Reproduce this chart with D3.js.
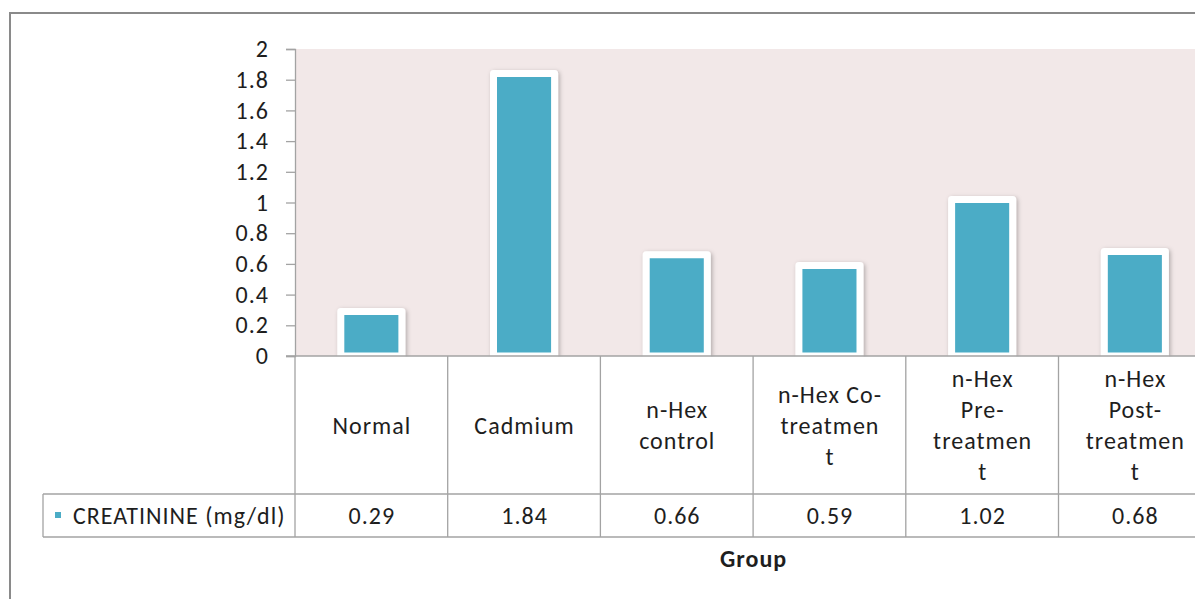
<!DOCTYPE html>
<html>
<head>
<meta charset="utf-8">
<script src="https://cdn.jsdelivr.net/npm/d3@7"></script>
<style>
  html, body { margin: 0; padding: 0; background: #ffffff; }
  svg { display: block; }
  text { font-family: Carlito, Calibri, Lato, "Open Sans", sans-serif; fill: #1e1e1e; letter-spacing: 1px; }
</style>
</head>
<body>
<svg id="chart" width="1195" height="599"></svg>
<script>
// Creatinine by treatment group
const categories = ["Normal", "Cadmium", "n-Hex control", "n-Hex Co-treatment", "n-Hex Pre-treatment", "n-Hex Post-treatment"];
const categoryLines = [
  ["Normal"],
  ["Cadmium"],
  ["n-Hex", "control"],
  ["n-Hex Co-", "treatmen", "t"],
  ["n-Hex", "Pre-", "treatmen", "t"],
  ["n-Hex", "Post-", "treatmen", "t"]
];
const creatinine = [0.29, 1.84, 0.66, 0.59, 1.02, 0.68];
const seriesName = "CREATININE (mg/dl)";
const yTicks = [0, 0.2, 0.4, 0.6, 0.8, 1, 1.2, 1.4, 1.6, 1.8, 2];
const xTitle = "Group";

const svg = d3.select("#chart");
const gridColor = "#a3a3a3";
const barColor = "#4bacc6";
const fontSize = 24;
const fontFamily = "Carlito, Calibri, Lato, 'Open Sans', sans-serif";

// plot geometry
const plotLeft = 295, plotTop = 49, plotBottom = 356;
const bandW = 152.7;
const plotRight = plotLeft + bandW * categories.length;
const row1Bottom = 494, row2Bottom = 537, legendLeft = 43;

const x = d3.scaleBand().domain(categories).range([plotLeft, plotRight]).paddingInner(0).paddingOuter(0);
const y = d3.scaleLinear().domain([0, 2]).range([plotBottom, plotTop]);

// soft shadow for the columns
const defs = svg.append("defs");
const f = defs.append("filter").attr("id", "shadow").attr("x", "-20%").attr("y", "-20%").attr("width", "140%").attr("height", "140%");
f.append("feDropShadow").attr("dx", 1.5).attr("dy", 1.5).attr("stdDeviation", 2)
  .attr("flood-color", "#000").attr("flood-opacity", 0.28);

// outer chart frame
svg.append("rect").attr("x", 10).attr("y", 13).attr("width", 1300).attr("height", 700)
  .attr("fill", "none").attr("stroke", "#8a8a8a").attr("stroke-width", 2);

// plot area background
svg.append("rect").attr("x", plotLeft + 1).attr("y", plotTop)
  .attr("width", plotRight - plotLeft).attr("height", plotBottom - plotTop)
  .attr("fill", "#f2e8e8");

// columns
const barW = bandW * 0.4;
svg.append("g").selectAll("rect").data(categories).join("rect")
  .attr("x", (d) => x(d) + (bandW - barW) / 2)
  .attr("y", (d, i) => y(creatinine[i]))
  .attr("width", barW)
  .attr("height", (d, i) => y(0) - y(creatinine[i]))
  .attr("fill", barColor)
  .attr("stroke", "#ffffff")
  .attr("stroke-width", 7)
  .attr("stroke-linejoin", "round")
  .attr("filter", "url(#shadow)");

// cover the shadow/stroke that falls below the baseline
svg.append("rect").attr("x", plotLeft + 1).attr("y", plotBottom + 0.5)
  .attr("width", plotRight - plotLeft).attr("height", row1Bottom - plotBottom - 1)
  .attr("fill", "#ffffff");

// y axis
const yAxis = d3.axisLeft(y).tickValues(yTicks).tickSize(9).tickPadding(17)
  .tickFormat((d) => d3.format("~g")(d));
const ya = svg.append("g").attr("transform", `translate(${plotLeft},0)`).call(yAxis);
ya.select(".domain").attr("stroke", gridColor).attr("stroke-width", 1.3);
ya.selectAll(".tick line").attr("stroke", gridColor).attr("stroke-width", 1.3);
ya.selectAll(".tick text").attr("font-size", fontSize).attr("fill", "#1e1e1e")
  .style("font-family", fontFamily);

// baseline / data table grid
const grid = svg.append("g").attr("stroke", gridColor).attr("stroke-width", 1.3).attr("fill", "none");
grid.append("line").attr("x1", plotLeft - 9).attr("x2", plotRight).attr("y1", plotBottom).attr("y2", plotBottom);
grid.append("line").attr("x1", legendLeft).attr("x2", plotRight).attr("y1", row1Bottom).attr("y2", row1Bottom);
grid.append("line").attr("x1", legendLeft).attr("x2", plotRight).attr("y1", row2Bottom).attr("y2", row2Bottom);
grid.append("line").attr("x1", legendLeft).attr("x2", legendLeft).attr("y1", row1Bottom).attr("y2", row2Bottom);
grid.selectAll("line.col").data(d3.range(categories.length + 1)).join("line").attr("class", "col")
  .attr("x1", (i) => plotLeft + i * bandW).attr("x2", (i) => plotLeft + i * bandW)
  .attr("y1", plotBottom).attr("y2", row2Bottom);

// category labels (wrapped as in the table header)
const lineH = 31;
const rowMid = (plotBottom + row1Bottom) / 2;
const cat = svg.append("g").attr("font-size", fontSize).attr("text-anchor", "middle");
categories.forEach((c, i) => {
  const lines = categoryLines[i];
  const cx = x(c) + bandW / 2 + 0.5;
  const startY = rowMid - (lines.length - 1) * lineH / 2;
  lines.forEach((ln, j) => {
    cat.append("text").attr("x", cx).attr("y", startY + j * lineH)
      .attr("dominant-baseline", "central").text(ln);
  });
});

// data row values
const row2Mid = (row1Bottom + row2Bottom) / 2;
svg.append("g").attr("font-size", fontSize).attr("text-anchor", "middle")
  .selectAll("text").data(categories).join("text")
  .attr("x", (d) => x(d) + bandW / 2 + 0.5).attr("y", row2Mid)
  .attr("dominant-baseline", "central")
  .text((d, i) => creatinine[i].toFixed(2));

// legend key + series name
svg.append("rect").attr("x", 55).attr("y", row2Mid - 3.5).attr("width", 6).attr("height", 6).attr("fill", barColor);
svg.append("text").attr("x", 73).attr("y", row2Mid).attr("dominant-baseline", "central")
  .attr("font-size", fontSize).text(seriesName);

// axis title
svg.append("text").attr("x", plotLeft + 3 * bandW + 0.5).attr("y", 558)
  .attr("text-anchor", "middle").attr("dominant-baseline", "central")
  .attr("font-size", fontSize).attr("font-weight", "bold").text(xTitle);
</script>
</body>
</html>
